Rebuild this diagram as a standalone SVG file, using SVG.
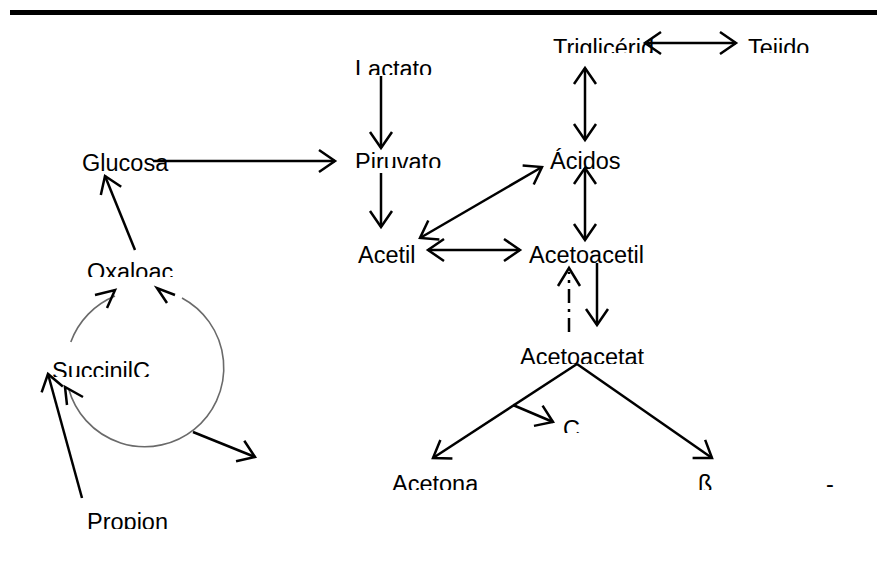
<svg xmlns="http://www.w3.org/2000/svg" width="877" height="577" viewBox="0 0 877 577">
  <style>
    .lbl { font-family: "Liberation Sans", Arial, sans-serif; font-size: 23.5px; fill: #000; }
    .ln { fill: none; stroke: #000; stroke-width: 2.5; }
    .arr { fill: none; stroke: #000; stroke-width: 2.5; marker-end: url(#ah); }
    .dbl { fill: none; stroke: #000; stroke-width: 2.5; marker-start: url(#ah); marker-end: url(#ah); }
    .cyc { fill: none; stroke: #6a6a6a; stroke-width: 1.6; }
  </style>
  <defs>
    <marker id="ah" markerUnits="userSpaceOnUse" markerWidth="40" markerHeight="40" viewBox="-20 -20 40 40" refX="0" refY="0" orient="auto-start-reverse" overflow="visible">
      <path d="M-16,-11 L0,0 L-16,11" fill="none" stroke="#000" stroke-width="2.5"/>
    </marker>
    <!-- label clip bands (text bottoms are cut off) -->
    <clipPath id="c75"><rect x="0" y="0" width="877" height="75"/></clipPath>
    <clipPath id="c53"><rect x="0" y="0" width="877" height="53"/></clipPath>
    <clipPath id="c168"><rect x="0" y="0" width="877" height="168"/></clipPath>
    <clipPath id="c277"><rect x="0" y="0" width="877" height="277"/></clipPath>
    <clipPath id="c364"><rect x="0" y="0" width="877" height="364"/></clipPath>
    <clipPath id="c377"><rect x="0" y="0" width="877" height="377"/></clipPath>
    <clipPath id="c433"><rect x="0" y="0" width="877" height="433"/></clipPath>
    <clipPath id="c490"><rect x="0" y="0" width="877" height="490"/></clipPath>
    <clipPath id="c529"><rect x="0" y="0" width="877" height="529"/></clipPath>
  </defs>

  <rect width="877" height="577" fill="#fff"/>
  <!-- header rule -->
  <rect x="10" y="10" width="867" height="5" fill="#000"/>

  <!-- nodes -->
  <g id="lactato"><text class="lbl" x="355" y="77" clip-path="url(#c75)">Lactato</text></g>
  <g id="piruvato"><text class="lbl" x="355" y="170" clip-path="url(#c168)">Piruvato</text></g>
  <g id="glucosa"><text class="lbl" x="82" y="171">Glucosa</text></g>
  <g id="trigliceridos"><text class="lbl" x="553" y="56" clip-path="url(#c53)">Triglicérid</text></g>
  <g id="tejido"><text class="lbl" x="748" y="56" clip-path="url(#c53)">Tejido</text></g>
  <g id="acidos"><text class="lbl" x="550" y="169">Ácidos</text></g>
  <g id="acetil"><text class="lbl" x="358" y="263">Acetil</text></g>
  <g id="acetoacetil"><text class="lbl" x="529" y="263">Acetoacetil</text></g>
  <g id="oxaloac"><text class="lbl" x="87" y="280" clip-path="url(#c277)">Oxaloac</text></g>
  <g id="succinilc"><text class="lbl" x="52" y="379" clip-path="url(#c377)">SuccinilC</text></g>
  <g id="acetoacetat"><text class="lbl" x="520" y="365" clip-path="url(#c364)">Acetoacetat</text></g>
  <g id="co2"><text class="lbl" x="563" y="437" clip-path="url(#c433)">C</text></g>
  <g id="acetona"><text class="lbl" x="392" y="492" clip-path="url(#c490)">Acetona</text></g>
  <g id="betahidroxi"><text class="lbl" x="698" y="492" clip-path="url(#c490)">ß</text><text class="lbl" x="826" y="492" clip-path="url(#c490)">-</text></g>
  <g id="propion"><text class="lbl" x="87" y="530" clip-path="url(#c529)">Propion</text></g>

  <!-- connectors -->
  <g id="connectors">
    <line class="dbl" x1="645" y1="43" x2="736" y2="43"/>
    <line class="dbl" x1="585" y1="68" x2="585" y2="140"/>
    <line class="arr" x1="381" y1="76" x2="381" y2="148"/>
    <line class="arr" x1="381" y1="173" x2="381" y2="227"/>
    <line class="arr" x1="153" y1="161" x2="335" y2="161"/>
    <line class="arr" x1="135" y1="250" x2="105" y2="176"/>
    <line class="dbl" x1="420" y1="238" x2="542" y2="167"/>
    <line class="dbl" x1="428" y1="250" x2="520" y2="250"/>
    <line class="dbl" x1="585" y1="168" x2="585" y2="240"/>
    <line class="arr" x1="597" y1="263" x2="597" y2="325"/>
    <!-- reverse path, dash-dot -->
    <line class="ln" x1="569" y1="332" x2="569" y2="272" stroke-dasharray="14,6,3,6"/>
    <path class="ln" d="M558,286 L569,268 L580,286"/>
    <line class="arr" x1="577" y1="364" x2="433" y2="458"/>
    <line class="arr" x1="577" y1="364" x2="712" y2="458"/>
    <line class="arr" x1="513" y1="405" x2="553" y2="422"/>

    <!-- cycle -->
    <path class="cyc" d="M70.8,342 A79,79 0 0 1 115,296"/>
    <path class="ln" d="M95,295 L115,290 L107,308"/>
    <path class="cyc" d="M182,298 A79,79 0 1 1 68.7,389"/>
    <path class="ln" d="M175,295 L157,288 L167,303"/>
    <path class="ln" d="M67,405 L65,387 L83,397"/>
    <line class="arr" x1="193" y1="432" x2="255" y2="457"/>
    <line class="arr" x1="82" y1="498" x2="48" y2="374"/>
  </g>
</svg>
